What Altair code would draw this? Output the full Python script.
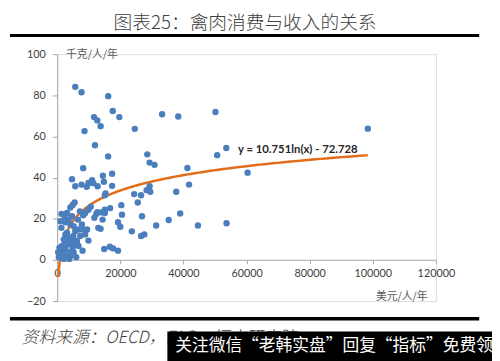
import altair as alt
import pandas as pd
import numpy as np

# --- data ---
income = [5730, 7710, 16150, 17610, 19690, 11670, 12710, 13750, 8650, 24590, 33240, 38350,
          11980, 16150, 28550, 29280, 30840, 17400, 8230, 14480, 4690, 5730, 7710, 9380, 9900,
          11050, 11460, 12810, 14790, 17400, 15110, 15320, 24380, 25530, 26570, 28340, 29280,
          29490, 37720, 41260, 41780, 38970, 35320, 31360, 26880, 23650, 26570, 27610, 44600,
          53660, 20320, 20530, 19270, 20000, 16780, 15110, 15110, 14060, 14380, 13030, 13750,
          12400, 12710, 11770, 10630, 9900, 8860, 8230, 7190, 6560, 8130, 9480, 8860, 9900,
          8030, 14900, 16670, 17710, 19270,
          520, 1040, 1560, 2080, 2600, 1350, 1040, 1350, 3130, 4170, 4900, 5520, 3650, 2600,
          4170, 5210, 5730, 3130, 4480, 3650, 2600, 1770, 2600, 4170, 5210, 6040, 3860, 2080,
          6770, 6250, 5100, 7300, 6770, 7820, 2400, 4690, 310, 730, 3440, 2400, 4900, 3650, 5310,
          50150, 98430, 53580, 50680, 60330]
poultry = [84.1, 81.5, 79.6, 72.4, 69.4, 69.4, 67.8, 65.0, 62.6, 63.7, 70.8, 69.7,
           55.7, 50.3, 51.3, 47.3, 46.2, 41.9, 44.6, 40.9, 39.2, 35.8, 36.6, 35.5, 37.4,
           38.7, 37.3, 35.8, 38.0, 36.0, 31.4, 32.3, 32.0, 27.9, 31.4, 33.9, 35.8,
           33.1, 33.1, 44.7, 36.6, 22.6, 19.4, 16.7, 21.2, 13.9, 11.6, 12.4, 16.7,
           17.8, 26.6, 22.0, 18.3, 16.1, 25.2, 24.4, 22.8, 23.1, 19.6, 15.6, 15.1,
           22.3, 23.2, 20.5, 25.9, 24.4, 22.8, 21.7, 23.6, 19.6, 14.8, 14.8, 12.4, 9.4,
           4.5, 5.3, 6.4, 5.6, 4.5,
           1.3, 3.7, 6.8, 10.0, 12.4, 15.6, 18.8, 22.4, 22.8, 25.5, 26.7, 27.9, 19.6, 18.3,
           17.2, 16.4, 14.0, 13.2, 10.0, 7.6, 5.3, 2.9, 1.3, 2.1, 3.7, 1.3, 0.5, 0.5,
           6.8, 9.2, 11.6, 11.6, 14.8, 17.2, 20.4, 21.2, 3.7, 6.0, 10.8, 8.4, 6.0, 3.7, 7.6,
           71.9, 63.8, 54.4, 50.9, 42.4]

x_ticks = [0, 20000, 40000, 60000, 80000, 100000, 120000]
y_ticks = [-20, 0, 20, 40, 60, 80, 100]
trend_coef = [10.751, -72.728]          # y = a*ln(x) + b, as printed on the chart
trend_extent = [400, 98400]
equation = "y = 10.751ln(x) - 72.728"
title_text = "图表25：禽肉消费与收入的关系"
source_text = "资料来源：OECD，FAO，恒大研究院"
watermark_text = "关注微信“老韩实盘”回复“指标”免费领"

pts = pd.DataFrame({"income": income, "poultry": poultry})

xs = alt.Scale(domain=[0, 120000], nice=False, zero=False)
ys = alt.Scale(domain=[-20, 100], nice=False, zero=False)
axis_grey = "#a6a6a6"
label_grey = "#404040"

x_enc = alt.X("income:Q", scale=xs,
              axis=alt.Axis(values=x_ticks, format="d", title=None, grid=False,
                            domainColor=axis_grey, tickColor=axis_grey, tickSize=4,
                            labelPadding=4, labelFont="Lato", labelFontSize=11,
                            labelColor=label_grey, offset=-42, labelFlush=False))
y_enc = alt.Y("poultry:Q", scale=ys,
              axis=alt.Axis(values=y_ticks, title=None, grid=False,
                            domainColor=axis_grey, tickColor=axis_grey, tickSize=5,
                            labelPadding=7, labelFont="Lato", labelFontSize=11,
                            labelColor=label_grey))

points = alt.Chart(pts).mark_circle(size=42, color="#4a7ebd", opacity=1).encode(x=x_enc, y=y_enc)

lo, hi = np.log(trend_extent[0]), np.log(trend_extent[1])
trend = (alt.Chart(alt.sequence(start=float(lo), stop=float(hi) + 0.02, step=0.02, as_="t"))
         .transform_calculate(income=f"exp(min(datum.t, {hi}))")
         .transform_calculate(poultry=f"{trend_coef[0]} * log(datum.income) + ({trend_coef[1]})")
         .mark_line(color="#e36c1a", strokeWidth=2.5, clip=False)
         .encode(x=alt.X("income:Q", scale=xs), y=alt.Y("poultry:Q", scale=ys)))

eq = (alt.Chart(pd.DataFrame({"income": [57300], "poultry": [53.6], "t": [equation]}))
      .mark_text(align="left", baseline="middle", font="Lato", fontSize=11.5,
                 fontWeight="bold", color="#262626")
      .encode(x=alt.X("income:Q", scale=xs), y=alt.Y("poultry:Q", scale=ys), text="t:N"))

def label(txt, x, y, **kw):
    return (alt.Chart(pd.DataFrame({"t": [txt]}))
            .mark_text(**kw)
            .encode(x=alt.value(x), y=alt.value(y), text="t:N"))

ytitle = label("千克/人/年", 9, 1, align="left", baseline="middle",
               font="Noto Sans CJK SC", fontSize=11, color="#595959")
xtitle = label("美元/人/年", 324, 247, align="left", baseline="middle",
               font="Noto Sans CJK SC", fontSize=11, color="#595959")
title = label(title_text, 191, -32, align="center", baseline="middle",
              font="Noto Sans CJK SC", fontSize=19, fontWeight=300, color="#404040")
source = label(source_text, -36, 289, align="left", baseline="middle",
               font="Noto Sans CJK SC", fontSize=17, fontWeight=300, fontStyle="italic",
               color="#404040")

top_line = (alt.Chart(pd.DataFrame({"a": [0]})).mark_rule(color="black", strokeWidth=3)
            .encode(x=alt.value(-48), x2=alt.value(429), y=alt.value(-19)))
bot_line = (alt.Chart(pd.DataFrame({"a": [0]})).mark_rule(color="black", strokeWidth=3.5)
            .encode(x=alt.value(-48), x2=alt.value(429), y=alt.value(269)))
wm_box = (alt.Chart(pd.DataFrame({"a": [0]})).mark_rect(color="black")
          .encode(x=alt.value(112), x2=alt.value(445), y=alt.value(282), y2=alt.value(312)))
wm_text = label(watermark_text, 120, 297, align="left", baseline="middle",
                font="Noto Sans CJK SC", fontSize=17, color="white")

chart = (alt.layer(trend, points, eq, ytitle, xtitle, title, top_line, bot_line,
                   source, wm_box, wm_text)
         .properties(width=385, height=251,
                     autosize=alt.AutoSizeParams(type="none"),
                     padding={"left": 50, "top": 44, "right": 57, "bottom": 58})
         .configure_view(stroke=None)
         .configure(background="white"))

chart.save("out.html", embed_options={"renderer": "svg", "actions": False})
